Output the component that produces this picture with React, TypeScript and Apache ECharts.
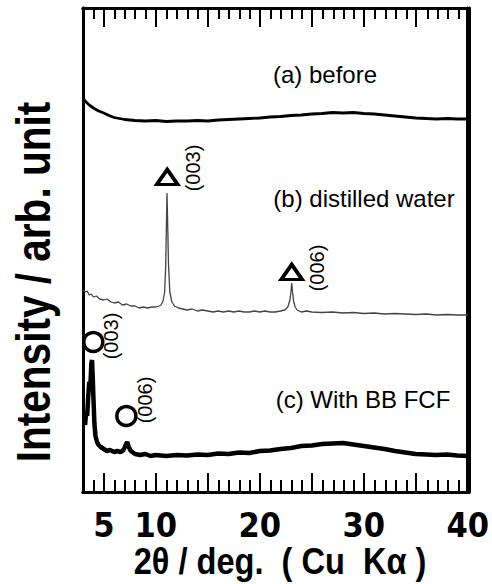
import React, { useEffect, useRef } from "react";
import * as echarts from "echarts";

// 2θ (deg) and intensity (arb. unit)
const twoThetaA = [3.0, 3.3, 3.6, 4.0, 4.5, 5.0, 5.5, 6.0, 6.5, 7, 8, 9, 10, 11, 12, 13, 14, 15, 16, 17, 18, 19, 20, 21, 22, 23, 24, 25, 26, 27, 28, 29, 30, 31, 32, 33, 34, 35, 36, 37, 38, 39, 40];
const intensityA = [394, 390, 387, 384, 381, 379, 376.5, 374.5, 373.5, 372.5, 371.5, 371, 371.5, 370.5, 371, 371, 371.5, 371, 372, 372.5, 373, 373.5, 374, 375, 375.5, 376.5, 377, 378, 378.5, 379.5, 379, 379.5, 378.5, 378, 377, 376, 375, 374, 373.5, 373, 373.5, 373, 373];

const twoThetaB = [3.0, 3.2, 3.4, 3.6, 3.8, 4.0, 4.3, 4.6, 5.0, 5.3, 5.7, 6.0, 6.4, 6.8, 7.2, 7.6, 8.0, 8.4, 8.8, 9.2, 9.6, 10.0, 10.3, 10.5, 10.7, 10.85, 10.95, 11.02, 11.08, 11.15, 11.22, 11.35, 11.55, 11.8, 12.2, 12.6, 13.0, 13.5, 14.0, 14.5, 15.0, 15.5, 16.0, 16.5, 17.0, 17.5, 18.0, 18.5, 19.0, 19.5, 20.0, 20.5, 21.0, 21.5, 22.0, 22.4, 22.7, 22.9, 23.0, 23.07, 23.15, 23.25, 23.4, 23.6, 24.0, 24.5, 25, 26, 27, 28, 29, 30, 31, 32, 33, 34, 35, 36, 37, 38, 39, 40];
const intensityB = [202, 200, 201, 197, 198, 195, 196, 193, 192, 193, 190, 189, 190, 187, 188, 186, 186, 184, 185, 184, 185, 185, 186, 187, 191, 200, 225, 265, 299, 265, 228, 200, 190, 186, 184, 183, 182, 183, 181, 182, 181, 180, 181, 180, 181, 180, 181, 180, 180, 181, 180, 181, 180, 180, 181, 182, 185, 192, 200, 209, 200, 191, 185, 182, 180, 181, 180, 179.5, 180, 179, 179.5, 178.5, 179, 178, 178.5, 178, 177.5, 178, 177, 177.5, 177, 177];

const twoThetaC = [3.2, 3.3, 3.4, 3.5, 3.6, 3.7, 3.8, 3.87, 3.95, 4.0, 4.1, 4.2, 4.35, 4.5, 4.7, 5.0, 5.3, 5.6, 6.0, 6.3, 6.6, 6.9, 7.1, 7.25, 7.4, 7.6, 8.0, 8.5, 9.0, 9.5, 10, 11, 12, 13, 14, 15, 16, 17, 18, 19, 20, 21, 22, 23, 24, 25, 26, 27, 28, 29, 30, 31, 32, 33, 34, 35, 36, 37, 38, 39, 40];
const intensityC = [67, 80, 76, 95, 110, 104, 128, 132, 110, 95, 68, 56, 50, 47, 45, 43, 41, 42, 40, 41, 40, 42, 47, 50, 45, 41, 38, 37, 38, 36, 37, 36, 37, 36.5, 37.5, 37, 38.5, 38, 39.5, 39, 41, 41.5, 43, 44, 46, 46.5, 48, 48.5, 49, 47.5, 46, 44.5, 43, 41, 39.5, 38, 37.5, 37, 37.5, 36.5, 36];

// peak markers (distilled water: triangles, BB FCF: circles)
const trianglePeaks = [[11.1, 315], [23.07, 220]];
const circlePeaks = [[3.99, 150], [7.17, 76]];
const hklText = ["(003)", "(006)", "(003)", "(006)"];
const hklAt = [[13.6, 324], [25.46, 224], [5.72, 156], [8.98, 92]];

const majorTicks = [5, 10, 15, 20, 25, 30, 35];
const minorTicks = [4, 6, 7, 8, 9, 11, 12, 13, 14, 16, 17, 18, 19, 21, 22, 23, 24, 26, 27, 28, 29, 31, 32, 33, 34, 36, 37, 38, 39];
const tickLabels = [5, 10, 20, 30, 40];

const narrow = "'Liberation Sans Narrow', 'Arial Narrow', 'DejaVu Sans Condensed', sans-serif";
const regular = "'Liberation Sans', Arial, sans-serif";

const zip = (xs: number[], ys: number[]) => xs.map((x, i) => [x, ys[i]]);

export default function App() {
  const ref = useRef<HTMLDivElement>(null);
  useEffect(() => {
    const chart = echarts.init(ref.current!, null, { renderer: "svg" });
    const base = { type: "value", min: 3, max: 40, splitLine: { show: false } };
    const tickLine = { color: "#000", width: 2 };
    const lineStyle = { color: "#000", width: 3 };
    const bottomLine = { show: true, onZero: true, lineStyle };
    const topLine = { show: true, onZero: false, lineStyle };
    const yLine = { show: true, onZero: false, lineStyle };
    const yBase = { type: "value", min: 0, max: 484, axisLine: yLine, axisTick: { show: false }, axisLabel: { show: false }, splitLine: { show: false } };
    const gridBox = { left: 83, right: 23, top: 8, bottom: 92 };
    chart.setOption({
      animation: false,
      backgroundColor: "#fff",
      grid: [gridBox, gridBox],
      xAxis: [
        {
          ...base, gridIndex: 0, position: "bottom", axisLine: bottomLine,
          axisTick: { show: true, inside: true, length: 19, customValues: majorTicks, lineStyle: tickLine },
          axisLabel: { show: true, customValues: tickLabels, fontSize: 34, fontWeight: "bold", fontFamily: narrow, color: "#000", margin: 16 },
        },
        {
          ...base, gridIndex: 0, position: "top", axisLine: topLine,
          axisTick: { show: true, inside: true, length: 19, customValues: majorTicks, lineStyle: tickLine },
          axisLabel: { show: false },
        },
        {
          ...base, gridIndex: 1, position: "bottom", axisLine: bottomLine,
          axisTick: { show: true, inside: true, length: 12, customValues: minorTicks, lineStyle: tickLine },
          axisLabel: { show: false },
        },
        {
          ...base, gridIndex: 1, position: "top", axisLine: topLine,
          axisTick: { show: true, inside: true, length: 11, customValues: minorTicks, lineStyle: tickLine },
          axisLabel: { show: false },
        },
      ],
      yAxis: [
        { ...yBase, gridIndex: 0, position: "left" },
        { ...yBase, gridIndex: 0, position: "right" },
        { ...yBase, gridIndex: 1, position: "left" },
        { ...yBase, gridIndex: 1, position: "right" },
      ],
      series: [
        { type: "line", data: zip(twoThetaA, intensityA), showSymbol: false, symbol: "none", lineStyle: { color: "#000", width: 2.8 }, clip: false },
        { type: "line", data: zip(twoThetaB, intensityB), showSymbol: false, symbol: "none", lineStyle: { color: "#444", width: 1.3 }, clip: false },
        { type: "line", data: zip(twoThetaC, intensityC), showSymbol: false, symbol: "none", lineStyle: { color: "#000", width: 4.5 }, clip: false },
        {
          type: "scatter", data: trianglePeaks, symbol: "triangle", symbolSize: [21, 15], clip: false, z: 5,
          itemStyle: { color: "#fff", borderColor: "#000", borderWidth: 3.5, opacity: 1 },
        },
        {
          type: "scatter", data: circlePeaks, symbol: "circle", symbolSize: 19, clip: false, z: 5,
          itemStyle: { color: "#fff", borderColor: "#000", borderWidth: 3.5, opacity: 1 },
        },
        {
          type: "scatter", data: hklAt.map((p, i) => [p[0], p[1], hklText[i]]), symbolSize: 0, clip: false, z: 6,
          itemStyle: { opacity: 1 },
          label: {
            show: true, position: "inside", rotate: 90, formatter: (p: any) => p.data[2],
            fontSize: 20, fontFamily: regular, color: "#000", opacity: 1, align: "center", verticalAlign: "middle",
          },
        },
      ],
      graphic: [
        { type: "text", x: 33, y: 282, rotation: Math.PI / 2, scaleX: 0.845, style: { text: "Intensity / arb. unit", fontSize: 48, fontWeight: "bold", fontFamily: regular, fill: "#000", textAlign: "center", textVerticalAlign: "middle" } },
        { type: "text", x: 280, y: 561, scaleX: 0.88, style: { text: "2θ / deg.  ( Cu  Kα )", fontSize: 37, fontWeight: "bold", fontFamily: regular, fill: "#000", textAlign: "center", textVerticalAlign: "middle" } },
        { type: "text", x: 325, y: 74, style: { text: "(a) before", fontSize: 24, fontFamily: regular, fill: "#000", textAlign: "center", textVerticalAlign: "middle" } },
        { type: "text", x: 364, y: 198, style: { text: "(b) distilled water", fontSize: 24, fontFamily: regular, fill: "#000", textAlign: "center", textVerticalAlign: "middle" } },
        { type: "text", x: 363, y: 399, style: { text: "(c) With BB FCF", fontSize: 24, fontFamily: regular, fill: "#000", textAlign: "center", textVerticalAlign: "middle" } },
      ],
    });
    return () => chart.dispose();
  }, []);
  return <div ref={ref} style={{ position: "fixed", left: 0, top: 0, width: 492, height: 584, background: "#fff" }} />;
}
